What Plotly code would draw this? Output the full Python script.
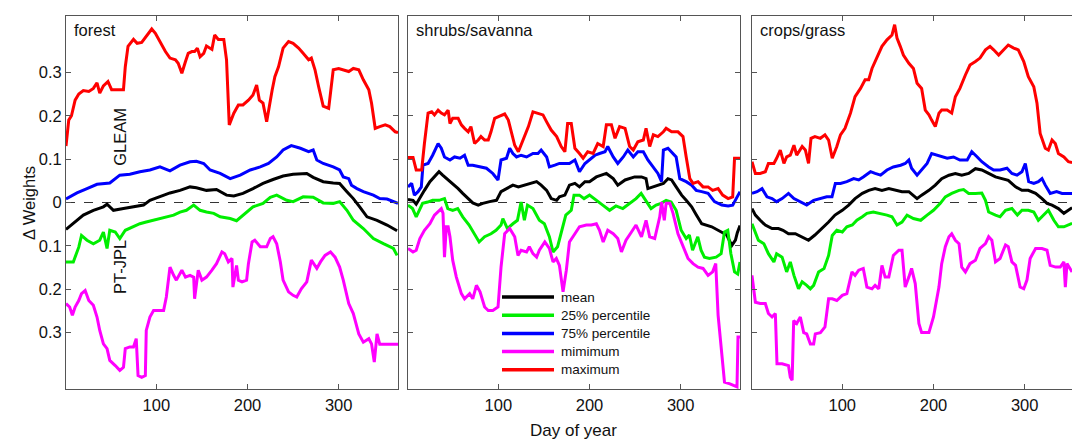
import plotly.graph_objects as go

# ---------------- data (day of year, delta weight) ----------------
series_names = ["mean", "25% percentile", "75% percentile", "mimimum", "maximum"]
series_colors = ["#000000", "#00ee00", "#0000ff", "#ff00ff", "#ff0000"]
panel_titles = ["forest", "shrubs/savanna", "crops/grass"]
x_tickvals = [100, 200, 300]
y_tickvals = [-0.3, -0.2, -0.1, 0, 0.1, 0.2, 0.3]
y_ticktext = ["0.3", "0.2", "0.1", "0", "0.1", "0.2", "0.3"]

forest_mean = [(1,-0.062),(9,-0.048),(20,-0.029),(31,-0.018),(42,-0.010),(46,-0.004),(53,-0.018),(64,-0.014),(75,-0.010),(86,-0.006),(93,0.005),(104,0.013),(115,0.022),(126,0.028),(137,0.036),(144,0.034),(155,0.028),(166,0.030),(177,0.017),(185,0.015),(195,0.021),(206,0.032),(217,0.044),(228,0.053),(239,0.061),(250,0.065),(265,0.067),(272,0.058),(283,0.048),(294,0.045),(301,0.044),(309,0.025),(316,0.009),(323,-0.010),(331,-0.033),(342,-0.041),(353,-0.052),(364,-0.065)]
forest_p25 = [(1,-0.137),(9,-0.137),(15,-0.103),(18,-0.076),(24,-0.087),(31,-0.095),(38,-0.087),(42,-0.068),(46,-0.106),(49,-0.064),(55,-0.068),(60,-0.083),(66,-0.064),(75,-0.056),(82,-0.049),(89,-0.045),(97,-0.041),(104,-0.037),(111,-0.033),(119,-0.029),(126,-0.022),(133,-0.018),(141,-0.006),(148,-0.018),(155,-0.022),(163,-0.025),(170,-0.033),(181,-0.037),(188,-0.042),(195,-0.029),(206,-0.010),(217,-0.002),(225,0.012),(232,0.017),(243,0.005),(250,0.002),(261,0.013),(272,0.012),(283,-0.001),(294,-0.002),(301,0.002),(309,-0.018),(316,-0.041),(327,-0.060),(338,-0.083),(349,-0.095),(360,-0.106),(364,-0.122)]
forest_p75 = [(1,0.008),(13,0.022),(24,0.032),(35,0.042),(49,0.045),(60,0.063),(71,0.065),(82,0.071),(93,0.075),(104,0.082),(115,0.073),(126,0.086),(137,0.094),(144,0.095),(152,0.090),(159,0.075),(170,0.067),(181,0.055),(192,0.063),(203,0.075),(214,0.082),(223,0.090),(232,0.105),(239,0.121),(248,0.131),(258,0.125),(267,0.117),(272,0.121),(276,0.098),(283,0.090),(294,0.082),(301,0.075),(305,0.059),(311,0.055),(314,0.040),(320,0.032),(327,0.025),(338,0.017),(345,0.009),(353,0.008),(365,-0.002)]
forest_min = [(1,-0.233),(5,-0.241),(8,-0.26),(11,-0.241),(15,-0.226),(18,-0.21),(22,-0.203),(26,-0.226),(31,-0.237),(35,-0.264),(38,-0.295),(42,-0.326),(46,-0.337),(49,-0.364),(55,-0.376),(60,-0.387),(64,-0.38),(66,-0.337),(71,-0.333),(75,-0.333),(78,-0.314),(80,-0.399),(84,-0.403),(88,-0.399),(89,-0.295),(93,-0.264),(97,-0.249),(102,-0.249),(108,-0.249),(111,-0.218),(115,-0.149),(119,-0.168),(122,-0.179),(128,-0.156),(132,-0.172),(137,-0.168),(141,-0.172),(142,-0.222),(146,-0.156),(150,-0.179),(155,-0.172),(161,-0.156),(166,-0.141),(172,-0.114),(175,-0.118),(179,-0.137),(183,-0.129),(184,-0.195),(188,-0.145),(190,-0.179),(194,-0.183),(199,-0.179),(201,-0.141),(205,-0.091),(208,-0.087),(214,-0.102),(221,-0.102),(225,-0.083),(228,-0.079),(232,-0.095),(236,-0.137),(239,-0.179),(245,-0.206),(250,-0.214),(254,-0.218),(259,-0.199),(265,-0.183),(270,-0.133),(276,-0.152),(280,-0.137),(285,-0.122),(291,-0.114),(296,-0.126),(301,-0.149),(305,-0.179),(311,-0.233),(316,-0.256),(322,-0.303),(327,-0.322),(333,-0.314),(336,-0.326),(339,-0.368),(342,-0.303),(345,-0.327),(365,-0.327)]
forest_max = [(1,0.13),(4,0.19),(7,0.20),(11,0.236),(15,0.25),(20,0.258),(26,0.256),(31,0.263),(35,0.276),(38,0.252),(42,0.269),(47,0.279),(51,0.26),(60,0.26),(64,0.26),(66,0.313),(69,0.36),(75,0.376),(79,0.367),(84,0.369),(89,0.383),(95,0.40),(99,0.39),(104,0.371),(110,0.348),(115,0.333),(121,0.329),(124,0.321),(128,0.298),(132,0.325),(135,0.344),(139,0.348),(142,0.348),(145,0.356),(148,0.336),(152,0.344),(155,0.361),(161,0.353),(164,0.386),(168,0.376),(174,0.376),(177,0.329),(180,0.179),(185,0.206),(190,0.225),(195,0.225),(201,0.236),(206,0.248),(210,0.271),(213,0.236),(217,0.229),(221,0.186),(223,0.213),(227,0.259),(230,0.29),(234,0.313),(239,0.356),(245,0.371),(250,0.367),(256,0.356),(261,0.344),(267,0.329),(270,0.333),(274,0.306),(278,0.267),(283,0.222),(289,0.217),(291,0.256),(294,0.306),(300,0.309),(305,0.306),(311,0.302),(316,0.309),(322,0.306),(327,0.283),(333,0.26),(336,0.229),(340,0.171),(345,0.175),(351,0.179),(356,0.175),(362,0.163),(365,0.161)]

shrubs_mean = [(1,0.007),(6.5,0.005),(10,-0.004),(14,0.009),(19,0.028),(25,0.048),(30,0.059),(35,0.071),(39,0.063),(45,0.052),(50,0.044),(56,0.032),(61,0.021),(67,0.009),(72,-0.001),(78,-0.006),(83,-0.002),(90.5,0.002),(98,0.005),(103,0.025),(109,0.032),(116,0.04),(122,0.036),(129,0.04),(136,0.045),(142,0.048),(147,0.04),(153,0.028),(158,0.009),(164,0.005),(167,0.013),(173,0.017),(178,0.04),(184,0.044),(189,0.036),(195,0.048),(200,0.048),(207.5,0.059),(213,0.063),(218.5,0.067),(226,0.055),(231,0.04),(239,0.052),(244,0.055),(249.5,0.059),(257,0.059),(262,0.055),(264,0.032),(270,0.036),(275,0.04),(281,0.044),(286,0.055),(290,0.052),(295,0.036),(301,0.017),(306,0.005),(312,-0.01),(317,-0.028),(323,-0.049),(334,-0.056),(341,-0.064),(347,-0.072),(350.5,-0.075),(356,-0.099),(360,-0.087),(362,-0.07),(365,-0.053)]
shrubs_p25 = [(1,-0.006),(6,-0.014),(10,-0.033),(13.5,-0.018),(17,-0.002),(22.6,0.001),(28,0.005),(35,0.005),(41,0.009),(44.6,-0.014),(50,-0.018),(55.5,-0.014),(61,-0.033),(68,-0.052),(74,-0.072),(79,-0.091),(85,-0.079),(92,-0.072),(97.5,-0.064),(103,-0.052),(105,-0.037),(110,-0.06),(116,-0.049),(121,-0.041),(125,0.001),(128.6,-0.041),(132,-0.006),(138,-0.014),(145,-0.041),(150.5,-0.049),(156,-0.079),(160,-0.114),(165,-0.102),(169,-0.072),(174,-0.029),(180,-0.018),(183,0.017),(189,0.017),(194,0.009),(200,0.017),(207,0.005),(214.5,-0.006),(222,-0.018),(229,-0.008),(236.5,-0.014),(244,-0.002),(251,0.009),(256.6,0.021),(262,0.005),(267.5,-0.014),(273,-0.006),(278.5,-0.002),(284,0.005),(289.5,0.001),(295,-0.018),(300.5,-0.064),(306,-0.083),(309.5,-0.075),(313,-0.11),(318.7,-0.079),(322.3,-0.11),(326,-0.126),(331.5,-0.129),(338.8,-0.126),(344.3,-0.118),(348,-0.068),(351.6,-0.064),(355,-0.118),(359,-0.16),(362.5,-0.165),(365,-0.137)]
shrubs_p75 = [(1,0.036),(5,0.044),(8,0.017),(12,0.025),(15.6,0.036),(17.4,0.086),(23,0.09),(28,0.109),(34,0.136),(37.5,0.125),(41,0.105),(47,0.098),(52,0.105),(58,0.102),(63,0.109),(67,0.086),(72,0.086),(80,0.082),(87,0.079),(94,0.067),(99.7,0.052),(103,0.098),(109,0.102),(112.5,0.125),(116,0.113),(120,0.105),(125,0.109),(131,0.105),(138,0.113),(143.5,0.113),(147,0.121),(153,0.105),(156,0.082),(162,0.086),(167,0.09),(173,0.09),(178,0.09),(184,0.098),(189,0.071),(195,0.09),(200,0.098),(206,0.109),(211,0.113),(217,0.117),(220,0.129),(226,0.105),(231,0.09),(237,0.105),(242,0.121),(248,0.105),(253,0.117),(259,0.117),(264,0.098),(270,0.082),(275,0.067),(279,0.048),(281,0.121),(286,0.125),(292,0.113),(295,0.105),(299,0.055),(306,0.048),(312,0.04),(317,0.028),(323,0.025),(330,0.021),(337,0.002),(345,-0.006),(352,-0.008),(357,-0.006),(365,0.025)]
shrubs_min = [(1,-0.106),(6.5,-0.114),(10,-0.11),(14,-0.083),(19,-0.064),(25,-0.049),(30,-0.029),(34,-0.022),(37.5,-0.014),(39.4,-0.025),(41,-0.126),(43,-0.056),(45,-0.056),(47,-0.079),(50,-0.133),(54,-0.172),(59.5,-0.21),(63,-0.222),(68.6,-0.21),(72,-0.222),(76,-0.191),(80,-0.206),(85,-0.241),(89,-0.249),(94,-0.249),(99.7,-0.241),(103,-0.149),(107,-0.072),(112.5,-0.06),(118,-0.079),(121.6,-0.122),(125,-0.11),(131,-0.114),(134,-0.102),(138,-0.118),(142,-0.126),(145,-0.11),(151,-0.091),(156,-0.106),(160,-0.137),(163.6,-0.129),(167,-0.145),(171,-0.206),(174.6,-0.156),(178,-0.091),(184,-0.072),(189,-0.056),(196.5,-0.052),(202,-0.052),(207.5,-0.049),(211,-0.064),(215,-0.091),(220,-0.064),(226,-0.072),(231,-0.083),(235,-0.114),(240,-0.087),(246,-0.068),(251,-0.052),(257,-0.079),(262,-0.041),(266,-0.079),(271.5,-0.083),(277,-0.033),(279,0.001),(282,-0.041),(284,-0.002),(288,-0.002),(291.6,-0.025),(297,-0.072),(302.5,-0.102),(308,-0.129),(313.5,-0.141),(319,-0.149),(324.5,-0.152),(330,-0.168),(335,-0.16),(338.4,-0.141),(341,-0.26),(344.6,-0.349),(348,-0.414),(354,-0.418),(359,-0.422),(361.7,-0.425),(362.8,-0.31),(365,-0.31)]
shrubs_max = [(1,0.104),(6.5,0.104),(10,0.075),(16,0.075),(19,0.136),(23,0.206),(27,0.209),(30,0.202),(34,0.213),(37.5,0.206),(41,0.202),(45,0.213),(47,0.182),(50,0.194),(56,0.194),(59.5,0.179),(63,0.171),(67,0.163),(70,0.175),(74,0.136),(78,0.144),(81,0.152),(85,0.144),(89,0.144),(92,0.163),(96,0.194),(101.5,0.199),(107,0.204),(111,0.19),(114,0.167),(118,0.132),(122,0.117),(127,0.144),(133,0.175),(138,0.209),(143.5,0.206),(149,0.202),(153,0.186),(158,0.167),(164,0.152),(169,0.129),(173,0.117),(176,0.182),(180,0.182),(184,0.125),(189,0.113),(193,0.102),(198,0.117),(204,0.113),(209,0.136),(215,0.129),(218.5,0.179),(224,0.179),(228,0.148),(233,0.175),(239,0.171),(244,0.129),(248,0.121),(253,0.14),(259,0.144),(262,0.171),(266,0.129),(270,0.156),(275,0.152),(281,0.163),(284,0.171),(290,0.163),(297,0.163),(302.5,0.152),(306,0.105),(310,0.055),(313.5,0.044),(319,0.048),(324.5,0.036),(330,0.036),(335,0.028),(341,0.032),(346,0.017),(352,0.009),(357,0.013),(359,0.102),(365,0.102)]

crops_mean = [(1,-0.014),(4.7,-0.029),(10,-0.041),(15.6,-0.052),(23,-0.06),(30,-0.06),(35,-0.064),(41,-0.072),(48.5,-0.072),(56,-0.079),(63,-0.087),(70,-0.075),(78,-0.06),(85,-0.045),(92,-0.029),(100,-0.018),(107,-0.006),(114,0.009),(122,0.021),(129,0.028),(136,0.032),(143.5,0.028),(151,0.032),(158,0.028),(165.5,0.025),(173,0.025),(178,0.017),(182,0.009),(187,0.017),(195,0.028),(202,0.04),(209,0.055),(217,0.063),(224,0.067),(231,0.063),(238.6,0.067),(246,0.078),(253,0.075),(260.5,0.067),(268,0.059),(275,0.055),(282,0.051),(290,0.036),(297,0.028),(304,0.028),(312,0.021),(319,0.009),(324.5,-0.002),(330,-0.006),(337,-0.014),(343,-0.025),(348,-0.018),(352,-0.012)]
crops_p25 = [(1,-0.049),(4.7,-0.068),(8,-0.087),(14,-0.095),(19,-0.118),(25,-0.137),(28,-0.118),(34,-0.126),(39,-0.16),(43,-0.137),(47,-0.168),(52,-0.199),(56,-0.183),(61,-0.191),(65,-0.199),(68.6,-0.191),(74,-0.16),(80,-0.152),(85,-0.122),(89,-0.076),(94,-0.064),(100,-0.068),(105,-0.056),(111,-0.052),(116,-0.041),(122,-0.033),(127,-0.025),(134,-0.022),(142,-0.025),(149,-0.029),(154.5,-0.033),(160,-0.052),(165.5,-0.045),(171,-0.029),(178,-0.037),(186,-0.041),(193,-0.029),(200,-0.018),(207.5,-0.002),(213,0.013),(220,0.021),(228,0.028),(233,0.03),(238.6,0.021),(246,0.021),(253,0.022),(257,0.005),(260.5,-0.022),(268,-0.029),(273,-0.033),(279,-0.018),(286,-0.014),(292,-0.029),(297,-0.018),(304,-0.018),(310,-0.022),(315,-0.041),(321,-0.029),(326,-0.018),(332,-0.041),(337,-0.056),(343,-0.056),(348,-0.052),(352,-0.048)]
crops_p75 = [(1,0.021),(6.5,0.025),(12,0.032),(17.4,0.013),(23,0.009),(28,0.002),(34,0.009),(41,0.021),(47,0.009),(54,0.002),(61,-0.006),(68.6,0.005),(76,0.009),(83,0.013),(88.7,0.013),(92.4,0.044),(98,0.044),(105,0.048),(112.5,0.055),(118,0.052),(123,0.059),(131,0.071),(136,0.067),(142,0.063),(149,0.075),(156,0.082),(164,0.086),(169,0.09),(173,0.098),(176,0.079),(182,0.063),(187,0.075),(193,0.09),(198,0.113),(204,0.109),(209,0.105),(215,0.102),(222,0.105),(229,0.098),(237,0.098),(242,0.117),(248,0.105),(253,0.094),(260.5,0.082),(266,0.075),(273,0.075),(280.6,0.079),(286,0.067),(291.6,0.063),(297,0.071),(300.7,0.09),(304.4,0.048),(310,0.044),(315,0.048),(319,0.055),(322.6,0.04),(328,0.021),(335,0.025),(341,0.021),(346,0.021),(352,0.021)]
crops_min = [(1,-0.168),(4.7,-0.23),(10,-0.233),(15.6,-0.233),(19,-0.256),(23,-0.264),(26.6,-0.256),(28.4,-0.372),(34,-0.372),(41,-0.376),(43,-0.403),(45,-0.41),(46.7,-0.272),(50,-0.279),(54,-0.264),(57.7,-0.3),(61,-0.303),(65,-0.326),(68.6,-0.326),(70.4,-0.303),(76,-0.3),(81,-0.287),(85,-0.222),(89,-0.222),(94,-0.226),(100,-0.214),(105,-0.21),(110.6,-0.16),(114,-0.168),(118,-0.156),(123,-0.152),(127,-0.195),(132.6,-0.199),(136,-0.191),(140,-0.199),(143.5,-0.145),(147,-0.172),(151,-0.172),(156,-0.122),(162,-0.11),(165.5,-0.11),(169,-0.195),(173,-0.172),(176,-0.152),(180,-0.187),(184,-0.279),(187,-0.3),(195,-0.3),(200,-0.264),(206,-0.195),(209,-0.141),(213,-0.102),(217,-0.079),(220,-0.072),(224,-0.087),(228,-0.095),(231,-0.149),(235,-0.16),(240,-0.141),(246,-0.133),(251,-0.106),(257,-0.095),(260.5,-0.079),(264,-0.087),(268,-0.137),(273,-0.129),(279,-0.098),(282,-0.102),(286,-0.137),(290,-0.145),(295,-0.195),(299,-0.199),(302.5,-0.179),(306,-0.129),(312,-0.106),(319,-0.106),(324.5,-0.11),(328,-0.145),(334,-0.149),(339,-0.149),(343,-0.137),(344.6,-0.195),(346.4,-0.141),(350,-0.152),(352,-0.16)]
crops_max = [(1,0.094),(4.7,0.067),(10,0.067),(15.6,0.071),(19,0.09),(25,0.09),(28,0.102),(32,0.121),(36,0.09),(39,0.105),(43,0.109),(47,0.132),(50,0.109),(56,0.129),(59.5,0.121),(63,0.09),(65.7,0.148),(70,0.152),(76,0.148),(81,0.156),(85,0.144),(89,0.102),(94,0.129),(98,0.156),(103,0.171),(109,0.206),(114,0.244),(120,0.263),(125,0.283),(129,0.283),(132.6,0.309),(138,0.333),(143.5,0.36),(149,0.375),(154.5,0.386),(157.4,0.41),(160,0.379),(163.6,0.36),(167,0.34),(173,0.321),(178,0.309),(182,0.275),(187,0.263),(191,0.213),(195,0.202),(198,0.19),(202,0.175),(206,0.206),(209,0.213),(215,0.213),(220,0.206),(224,0.244),(229,0.263),(235,0.294),(240,0.317),(246,0.325),(251,0.333),(257,0.352),(262,0.36),(266,0.352),(271.5,0.34),(277,0.352),(282,0.363),(288,0.356),(293,0.352),(299,0.325),(304,0.29),(310,0.267),(313.5,0.229),(317,0.159),(322.6,0.125),(326,0.121),(330,0.144),(333.6,0.136),(337,0.113),(343,0.105),(348,0.094),(352,0.092)]

panel_series = [
    [forest_mean, forest_p25, forest_p75, forest_min, forest_max],
    [shrubs_mean, shrubs_p25, shrubs_p75, shrubs_min, shrubs_max],
    [crops_mean, crops_p25, crops_p75, crops_min, crops_max],
]

# ---------------- layout geometry (pixels) ----------------
W, H = 1072, 439
FONT = "Liberation Sans, Arial, Helvetica, sans-serif"
panel_px = [(66, 398), (408, 740), (752, 1072)]
x_ranges = [[1, 365], [1, 365], [1, 351.9]]
y_range = [-0.43, 0.43]
top_px, bottom_px = 16, 389
frame = "#555555"
TXT = "#111111"

fig = go.Figure()
for p, series in enumerate(panel_series):
    xa = "x" if p == 0 else f"x{p+1}"
    ya = "y" if p == 0 else f"y{p+1}"
    for s, pts in enumerate(series):
        fig.add_trace(go.Scatter(
            x=[d for d, _ in pts], y=[v for _, v in pts],
            mode="lines", name=series_names[s], legendgroup=series_names[s],
            line=dict(color=series_colors[s], width=3),
            showlegend=False, xaxis=xa, yaxis=ya,
        ))
    # dashed zero line
    fig.add_shape(type="line", xref=f"{xa} domain", yref=ya, x0=0, x1=1, y0=0, y1=0,
                  line=dict(color="black", width=0.8, dash="dash"), layer="below")

ydom = [1 - bottom_px / H, 1 - top_px / H]
axis_common = dict(showgrid=False, zeroline=False, showline=True, linecolor=frame, linewidth=1,
                   ticks="inside", ticklen=5, tickcolor=frame,
                   tickfont=dict(family=FONT, size=16.5, color=TXT))
for p in range(3):
    suffix = "" if p == 0 else str(p + 1)
    x0, x1 = panel_px[p]
    fig.update_layout(**{
        f"xaxis{suffix}": dict(axis_common, domain=[x0 / W, x1 / W], range=x_ranges[p],
                               tickvals=x_tickvals, mirror="ticks", anchor=f"y{suffix}",
                               ticklabelstandoff=1),
        f"yaxis{suffix}": dict(axis_common, domain=ydom, range=y_range,
                               tickvals=y_tickvals, ticktext=y_ticktext,
                               showticklabels=(p == 0), mirror=("ticks" if p < 2 else False),
                               anchor=f"x{suffix}"),
    })

annotations = []
for p, title in enumerate(panel_titles):
    xa = "x" if p == 0 else f"x{p+1}"
    ya = "y" if p == 0 else f"y{p+1}"
    annotations.append(dict(text=title, xref=xa, yref=ya, x=7.5, y=0.398, xanchor="left",
                            yanchor="middle", showarrow=False,
                            font=dict(family=FONT, size=16.5, color=TXT)))
annotations.append(dict(text="GLEAM", xref="x", yref="y", x=60, y=0.151, textangle=-90,
                        showarrow=False, font=dict(family=FONT, size=16.5, color=TXT)))
annotations.append(dict(text="PT-JPL", xref="x", yref="y", x=60, y=-0.149, textangle=-90,
                        showarrow=False, font=dict(family=FONT, size=16.5, color=TXT)))
annotations.append(dict(text="\u0394 Weights", xref="paper", yref="paper", x=18 / W,
                        y=1 - 203 / H, textangle=-90, showarrow=False,
                        font=dict(family=FONT, size=16.5, color=TXT)))
annotations.append(dict(text="Day of year", xref="paper", yref="paper", x=573 / W,
                        y=1 - 430 / H, showarrow=False, yanchor="middle",
                        font=dict(family=FONT, size=17, color=TXT)))

# legend keys inside the middle panel
legend_rows_px = [297, 315.2, 333.4, 351.6, 369.8]
for name, color, row in zip(series_names, series_colors, legend_rows_px):
    fig.add_shape(type="line", xref="paper", yref="paper", x0=502 / W, x1=554 / W,
                  y0=1 - row / H, y1=1 - row / H, line=dict(color=color, width=3.5))
    annotations.append(dict(text=name, xref="paper", yref="paper", x=559 / W, y=1 - row / H,
                            xanchor="left", yanchor="middle", showarrow=False,
                            font=dict(family=FONT, size=13.5, color=TXT)))

fig.update_layout(
    width=W, height=H, margin=dict(l=0, r=0, t=0, b=0),
    paper_bgcolor="white", plot_bgcolor="white",
    annotations=annotations, showlegend=False,
)
fig.write_html("out.html")
